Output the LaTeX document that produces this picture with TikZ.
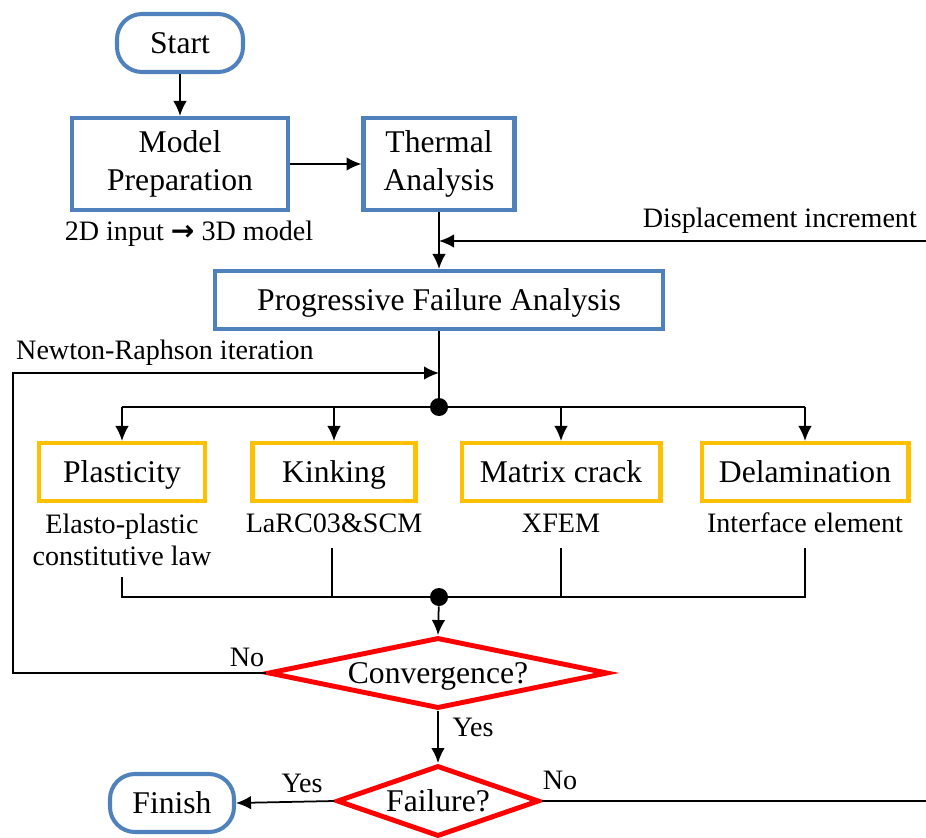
\documentclass[tikz,border=0pt]{standalone}
\usepackage{fontspec}
\setmainfont{Liberation Serif}
\newfontfamily\arrowfont{DejaVu Sans}
\usetikzlibrary{arrows.meta,shapes.geometric}

\definecolor{stageblue}{RGB}{79,129,189}
\definecolor{modeorange}{RGB}{255,192,0}
\definecolor{checkred}{RGB}{255,0,0}

\begin{document}
\begin{tikzpicture}[x=0.02cm,y=-0.02cm,line join=miter,
  >={Latex[length=0.3cm,width=0.27cm]},
  flow/.style={line width=1pt},
  bigtext/.style={font=\fontsize{18}{21.6}\selectfont},
  smalltext/.style={font=\fontsize{16}{18.4}\selectfont},
  oneline/.style={text height=11.9pt,text depth=0pt},
  terminal/.style={draw=stageblue,line width=2.3pt,rounded corners=0.5cm,bigtext,oneline,
    inner sep=0pt,minimum height=1.16cm},
  stage/.style={draw=stageblue,line width=2.3pt,bigtext,align=center,inner sep=0pt},
  mode/.style={draw=modeorange,line width=2.3pt,bigtext,oneline,inner sep=0pt,
    minimum height=1.16cm},
  check/.style={draw=checkred,line width=2.8pt,diamond,bigtext,oneline,inner sep=0pt},
  junction/.style={circle,fill=black,inner sep=0pt,minimum size=0.36cm}]

\useasboundingbox (0,0) rectangle (926,838);

% start and preprocessing
\node[terminal,minimum width=2.52cm] (start) at (180,43) {Start};
\node[stage,minimum width=4.32cm,minimum height=1.84cm] (model) at (180,164)
  {Model\\Preparation};
\node[stage,minimum width=3.02cm,minimum height=1.84cm] (thermal) at (439,164)
  {Thermal\\Analysis};
\node[smalltext] (modelnote) at (189,234) {2D input {\arrowfont\bfseries →} 3D model};

\draw[flow,->] (start) -- (model);
\draw[flow,->] (model) -- (thermal);

% progressive failure analysis
\node[stage,minimum width=8.98cm,minimum height=1.16cm,oneline] (pfa) at (439,300)
  {Progressive Failure Analysis};
\draw[flow,->] (thermal) -- (pfa);

\coordinate (dispin) at (926,241);
\draw[flow,->] (dispin) -- (dispin -| thermal.south);
\node[smalltext,anchor=east] (displabel) at (923,221) {Displacement increment};

% split into the four damage modes
\node[junction] (split) at (439,407) {};
\draw[flow] (pfa) -- (split);

\node[mode,minimum width=3.32cm] (plast) at (122,472) {Plasticity};
\node[mode,minimum width=3.26cm] (kink) at (334,472) {Kinking};
\node[mode,minimum width=3.98cm] (matrix) at (561,472) {Matrix crack};
\node[mode,minimum width=4.14cm] (delam) at (805,472) {Delamination};

\draw[flow] (plast.north |- split) -- (delam.north |- split);
\foreach \m in {plast,kink,matrix,delam}
  \draw[flow,->] (\m.north |- split) -- (\m.north);

\node[smalltext,align=center] (plastnote) at (122,540)
  {Elasto-plastic\\constitutive law};
\node[smalltext] (kinknote) at (334,523) {LaRC03\&SCM};
\node[smalltext] (matrixnote) at (561,523) {XFEM};
\node[smalltext] (delamnote) at (805,523) {Interface element};

% merge below the notes
\node[junction] (merge) at (439,597) {};
\coordinate (plasttail) at (122,577);
\coordinate (kinktail) at (332,548);
\coordinate (matrixtail) at (561,548);
\coordinate (delamtail) at (805,548);
\draw[flow] (plasttail) |- (delamtail |- merge) -- (delamtail);
\draw[flow] (kinktail) -- (kinktail |- merge);
\draw[flow] (matrixtail) -- (matrixtail |- merge);

% convergence check
\node[check,minimum width=6.8cm,minimum height=1.42cm,aspect=4.8] (conv) at (438,673)
  {Convergence?};
\draw[flow,->] (merge) -- (conv.north);

% Newton-Raphson loop back
\coordinate (nrtop) at (13,373);
\draw[flow,->] (conv.west) -| (nrtop) -- (nrtop -| pfa.south);
\node[smalltext,anchor=west] (nrlabel) at (10,353) {Newton-Raphson iteration};
\node[smalltext] (convno) at (247,657) {No};

% failure check
\node[check,minimum width=4.05cm,minimum height=1.42cm,aspect=2.85] (fail) at (438,801)
  {Failure?};
\draw[flow,->] (conv.south) -- (fail.north);
\node[smalltext] (convyes) at (473,727) {Yes};

\node[terminal,minimum width=2.48cm] (finish) at (172,803) {Finish};
\draw[flow,->] (fail.west) -- (finish.east);
\node[smalltext] (failyes) at (302,783) {Yes};

\coordinate (failout) at (926,801);
\draw[flow] (fail.east) -- (failout);
\node[smalltext] (failno) at (560,780) {No};

\end{tikzpicture}
\end{document}
